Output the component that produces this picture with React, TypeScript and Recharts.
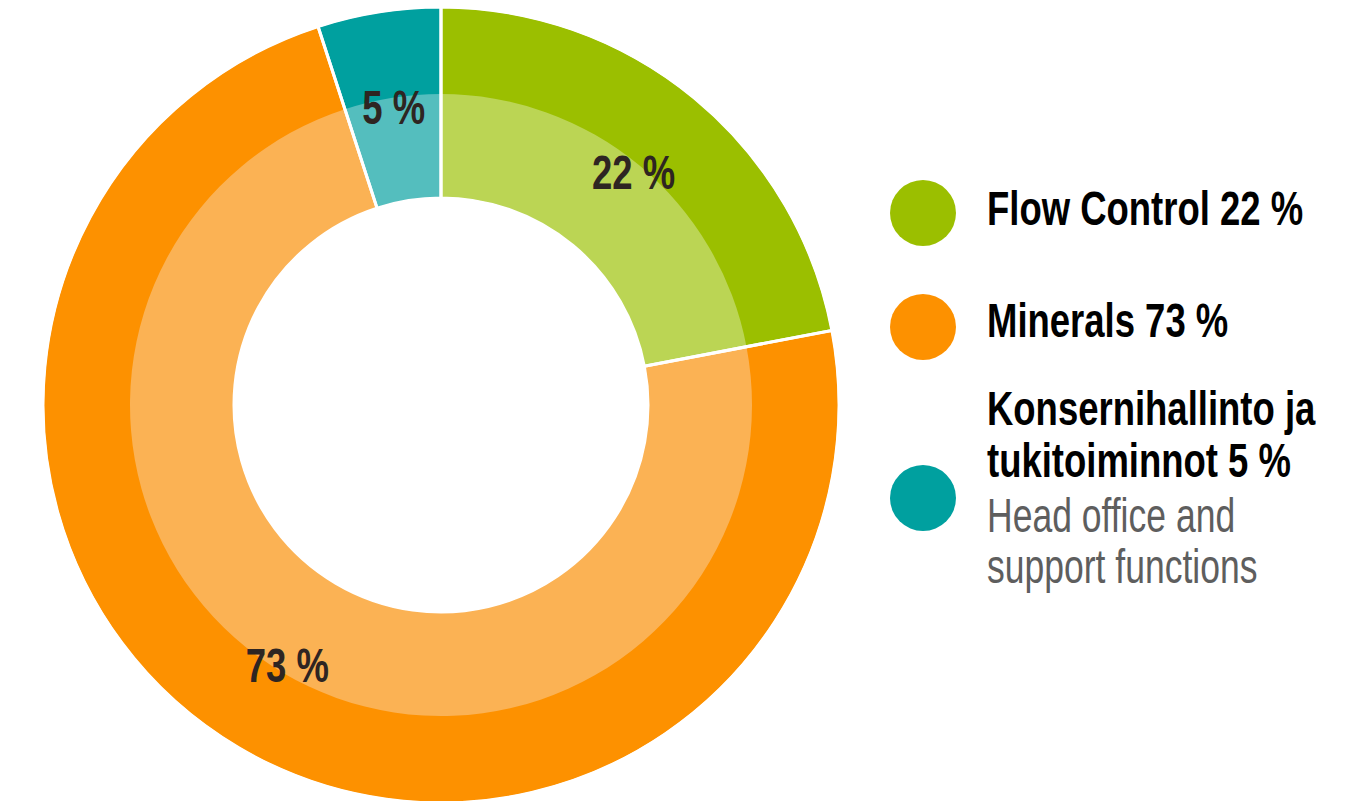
import React from "react";
import { PieChart, Pie, Cell } from "recharts";

const categories = ["Flow Control", "Minerals", "Konsernihallinto ja tukitoiminnot"];
const shares = [22, 73, 5];
const legendLines = [
  ["Flow Control 22 %"],
  ["Minerals 73 %"],
  ["Konsernihallinto ja", "tukitoiminnot 5 %"],
];
const legendSubLines = [[], [], ["Head office and", "support functions"]];
const outerColors = ["#9BBF00", "#FD9100", "#00A09F"];
const innerColors = ["#BBD554", "#FBB254", "#54BEBE"];

const data = categories.map((name, i) => ({ name, value: shares[i] }));

const FONT = "'Liberation Sans', Arial, sans-serif";
const SQUEEZE = 0.76;
const RAD = Math.PI / 180;

const renderLabel = (props: any) => {
  const { cx, cy, midAngle, index } = props;
  const r = 302;
  const x = cx + r * Math.cos(-midAngle * RAD);
  const y = cy + r * Math.sin(-midAngle * RAD);
  return (
    <text
      transform={`translate(${x},${y}) scale(${SQUEEZE},1)`}
      x={0}
      y={0}
      textAnchor="middle"
      dominantBaseline="central"
      fill="#2E2522"
      fontFamily={FONT}
      fontWeight="bold"
      fontSize={48}
    >
      {shares[index]} %
    </text>
  );
};

const M = { top: 0, right: 0, bottom: 0, left: 0 };

export default function App() {
  return (
    <div style={{ position: "absolute", left: 0, top: 0, width: 1362, height: 801, background: "#fff" }}>
      <PieChart width={1362} height={801} margin={M}>
        <Pie
          data={data}
          dataKey="value"
          cx={441}
          cy={405}
          innerRadius={208}
          outerRadius={397}
          startAngle={90}
          endAngle={-270}
          stroke="none"
          isAnimationActive={false}
        >
          {data.map((d, i) => (
            <Cell key={d.name} fill={outerColors[i]} />
          ))}
        </Pie>
        <Pie
          data={data}
          dataKey="value"
          cx={441}
          cy={405}
          innerRadius={208}
          outerRadius={311}
          startAngle={90}
          endAngle={-270}
          stroke="none"
          isAnimationActive={false}
        >
          {data.map((d, i) => (
            <Cell key={d.name} fill={innerColors[i]} />
          ))}
        </Pie>
        <Pie
          data={data}
          dataKey="value"
          cx={441}
          cy={405}
          innerRadius={207}
          outerRadius={398}
          startAngle={90}
          endAngle={-270}
          fill="none"
          stroke="#fff"
          strokeWidth={3}
          label={renderLabel}
          labelLine={false}
          isAnimationActive={false}
        >
          {data.map((d) => (
            <Cell key={d.name} fill="none" stroke="#fff" />
          ))}
        </Pie>
      </PieChart>
      <svg width={1362} height={801} style={{ position: "absolute", left: 0, top: 0, pointerEvents: "none" }}>
        {[213, 327, 498].map((cy, i) => (
          <circle key={"c" + i} cx={923} cy={cy} r={33} fill={outerColors[i]} />
        ))}
        {[[225], [337], [425, 477]].map((ys, i) =>
          ys.map((y, j) => (
            <text
              key={"t" + i + j}
              transform={`translate(987,${y}) scale(${SQUEEZE},1)`}
              x={0}
              y={0}
              fontFamily={FONT}
              fontWeight="bold"
              fontSize={48}
              fill="#000"
            >
              {legendLines[i][j]}
            </text>
          ))
        )}
        {[532, 583].map((y, j) => (
          <text
            key={"s" + j}
            transform={`translate(987,${y}) scale(${SQUEEZE - 0.02},1)`}
            x={0}
            y={0}
            fontFamily={FONT}
            fontSize={48}
            fill="#5E5E5E"
          >
            {legendSubLines[2][j]}
          </text>
        ))}
      </svg>
    </div>
  );
}
